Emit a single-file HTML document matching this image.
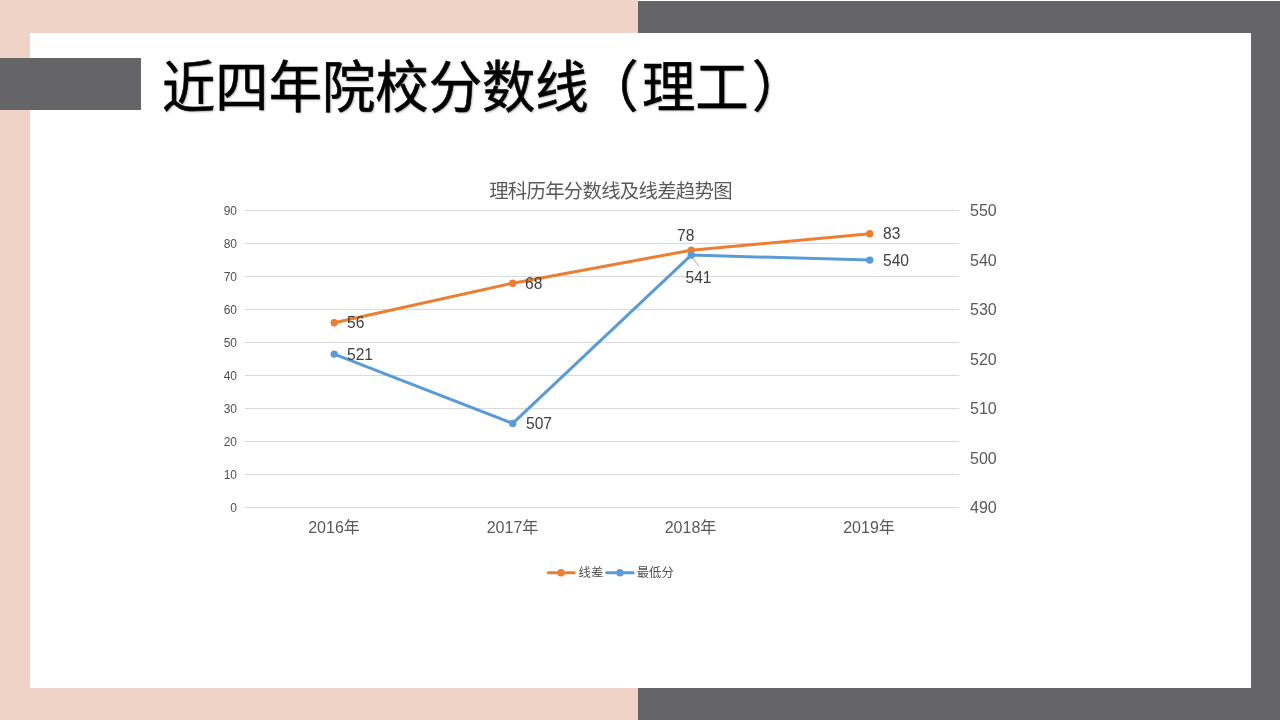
<!DOCTYPE html>
<html lang="zh-CN">
<head>
<meta charset="utf-8">
<title>近四年院校分数线（理工）</title>
<style>
html,body{margin:0;padding:0;}
body{width:1280px;height:720px;overflow:hidden;position:relative;background:#EFD3C6;font-family:"Liberation Sans","Noto Sans CJK SC",sans-serif;}
.gray{position:absolute;left:638px;top:1px;width:642px;height:719px;background:#656567;}
.topline{position:absolute;left:638px;top:0;width:642px;height:1px;background:#fff;}
.panel{position:absolute;left:30px;top:33px;width:1221px;height:655px;background:#fff;}
.bar{position:absolute;left:0;top:58px;width:141px;height:52px;background:#656567;}
h1{position:absolute;left:162px;top:50px;margin:0;font-weight:400;-webkit-text-stroke:0.55px #000;font-size:53.33px;line-height:76px;color:#000;white-space:nowrap;letter-spacing:0;text-shadow:1px 1px 2px rgba(0,0,0,.35);transform:scaleY(1.04);transform-origin:0 50%;font-family:"Liberation Sans","Noto Sans CJK SC",sans-serif;}
h1 span{position:relative;}
h1 .pl{left:-3.5px;}
h1 .pr{left:3.5px;}
svg{position:absolute;left:0;top:0;}
svg text{font-family:"Liberation Sans","Noto Sans CJK SC",sans-serif;}
</style>
</head>
<body>
<div class="gray"></div>
<div class="topline"></div>
<div class="panel"></div>
<div class="bar"></div>
<h1>近四年院校分数线<span class="pl">（</span>理工<span class="pr">）</span></h1>
<svg width="1280" height="720" viewBox="0 0 1280 720">
  <!-- gridlines -->
  <g stroke="#D9D9D9" stroke-width="1" shape-rendering="crispEdges">
    <line x1="245" x2="959" y1="210.5" y2="210.5"/>
    <line x1="245" x2="959" y1="243.5" y2="243.5"/>
    <line x1="245" x2="959" y1="276.5" y2="276.5"/>
    <line x1="245" x2="959" y1="309.5" y2="309.5"/>
    <line x1="245" x2="959" y1="342.5" y2="342.5"/>
    <line x1="245" x2="959" y1="375.5" y2="375.5"/>
    <line x1="245" x2="959" y1="408.5" y2="408.5"/>
    <line x1="245" x2="959" y1="441.5" y2="441.5"/>
    <line x1="245" x2="959" y1="474.5" y2="474.5"/>
    <line x1="245" x2="959" y1="507.5" y2="507.5"/>
  </g>
  <!-- title -->
  <text x="610.5" y="198" font-size="19.4" letter-spacing="-0.73" fill="#595959" text-anchor="middle">理科历年分数线及线差趋势图</text>
  <!-- left axis -->
  <g font-size="12" fill="#505050" text-anchor="end">
    <text x="237" y="214.5">90</text>
    <text x="237" y="247.5">80</text>
    <text x="237" y="280.5">70</text>
    <text x="237" y="313.5">60</text>
    <text x="237" y="346.5">50</text>
    <text x="237" y="379.5">40</text>
    <text x="237" y="412.5">30</text>
    <text x="237" y="445.5">20</text>
    <text x="237" y="478.5">10</text>
    <text x="237" y="511.5">0</text>
  </g>
  <!-- right axis -->
  <g font-size="16" fill="#595959">
    <text x="970" y="216">550</text>
    <text x="970" y="265.5">540</text>
    <text x="970" y="315">530</text>
    <text x="970" y="364.5">520</text>
    <text x="970" y="414">510</text>
    <text x="970" y="463.5">500</text>
    <text x="970" y="513">490</text>
  </g>
  <!-- categories -->
  <g font-size="16" fill="#595959" text-anchor="middle">
    <text x="334" y="533">2016年</text>
    <text x="512.5" y="533">2017年</text>
    <text x="690.5" y="533">2018年</text>
    <text x="869" y="533">2019年</text>
  </g>
  <!-- leader -->
  <line x1="692.3" y1="257.5" x2="698.6" y2="265.8" stroke="#A6A6A6" stroke-width="1"/>
  <!-- series -->
  <polyline fill="none" stroke="#ED7D31" stroke-width="3" stroke-linejoin="round" stroke-linecap="round" points="334.2,322.8 512.7,283.2 691.2,250.2 869.8,233.7"/>
  <g fill="#ED7D31">
    <circle cx="334.2" cy="322.8" r="3.7"/><circle cx="512.7" cy="283.2" r="3.7"/><circle cx="691.2" cy="250.2" r="3.7"/><circle cx="869.8" cy="233.7" r="3.7"/>
  </g>
  <polyline fill="none" stroke="#5B9BD5" stroke-width="3" stroke-linejoin="round" stroke-linecap="round" points="334.2,354.1 512.7,423.4 691.2,255.1 869.8,260.1"/>
  <g fill="#5B9BD5">
    <circle cx="334.2" cy="354.1" r="3.7"/><circle cx="512.7" cy="423.4" r="3.7"/><circle cx="691.2" cy="255.1" r="3.7"/><circle cx="869.8" cy="260.1" r="3.7"/>
  </g>
  <!-- data labels -->
  <g font-size="15.6" fill="#404040">
    <text x="347" y="328">56</text>
    <text x="525" y="289">68</text>
    <text x="677" y="241">78</text>
    <text x="883" y="239">83</text>
    <text x="347" y="360">521</text>
    <text x="526" y="429">507</text>
    <text x="685.5" y="283">541</text>
    <text x="883" y="266">540</text>
  </g>
  <!-- legend -->
  <line x1="548.2" x2="574.3" y1="572.7" y2="572.7" stroke="#ED7D31" stroke-width="3" stroke-linecap="round"/>
  <circle cx="561" cy="572.7" r="3.7" fill="#ED7D31"/>
  <text x="578.6" y="577" font-size="12.3" fill="#505050">线差</text>
  <line x1="606.7" x2="633.2" y1="572.7" y2="572.7" stroke="#5B9BD5" stroke-width="3" stroke-linecap="round"/>
  <circle cx="619.9" cy="572.7" r="3.7" fill="#5B9BD5"/>
  <text x="636.8" y="577" font-size="12.3" fill="#505050">最低分</text>
</svg>
</body>
</html>
